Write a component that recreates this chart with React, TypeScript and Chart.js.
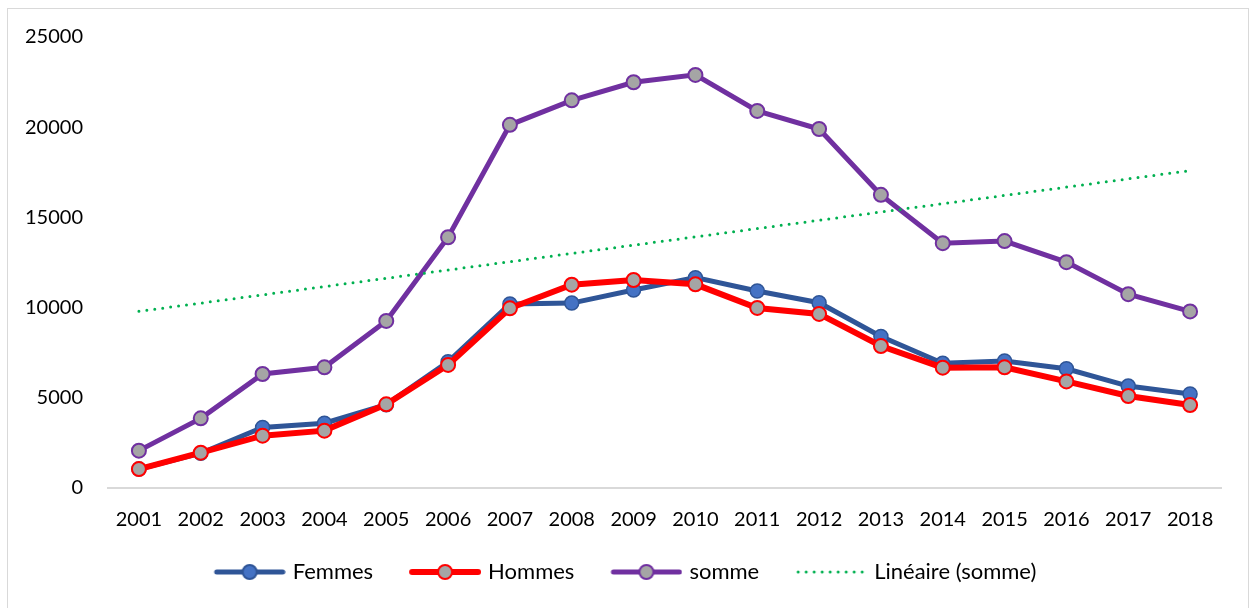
import React, { useEffect, useRef } from "react";
import { Chart, registerables } from "chart.js";

Chart.register(...registerables);

const years = ["2001", "2002", "2003", "2004", "2005", "2006", "2007", "2008", "2009", "2010", "2011", "2012", "2013", "2014", "2015", "2016", "2017", "2018"];
const femmes = [1050, 1930, 3360, 3590, 4620, 7000, 10200, 10250, 10975, 11660, 10920, 10270, 8400, 6910, 7040, 6610, 5650, 5210];
const hommes = [1050, 1960, 2900, 3180, 4640, 6820, 9960, 11270, 11530, 11290, 9980, 9650, 7870, 6670, 6690, 5910, 5100, 4600];
const somme = [2070, 3860, 6320, 6690, 9260, 13900, 20130, 21490, 22490, 22900, 20900, 19900, 16250, 13570, 13690, 12520, 10745, 9790];
const yTicks = [0, 5000, 10000, 15000, 20000, 25000];
const legendLabels = ["Femmes", "Hommes", "somme", "Linéaire (somme)"];

// Excel-style linear trendline (least squares) of "somme"
function linearTrend(values: number[]): number[] {
  const n = values.length;
  const xs = values.map((_, i) => i);
  const mx = xs.reduce((a, b) => a + b, 0) / n;
  const my = values.reduce((a, b) => a + b, 0) / n;
  let num = 0;
  let den = 0;
  xs.forEach((x, i) => {
    num += (x - mx) * (values[i] - my);
    den += (x - mx) * (x - mx);
  });
  const slope = num / den;
  return xs.map((x) => my + slope * (x - mx));
}

const FONT = "Lato, 'Open Sans', sans-serif";
const SAMPLE_OFF = 13;

function makeSample(line: string, lineW: number, fill: string | null, stroke: string | null, dotted: boolean): HTMLCanvasElement {
  const c = document.createElement("canvas");
  c.width = 85;
  c.height = 20;
  const ctx = c.getContext("2d")!;
  const o = SAMPLE_OFF;
  ctx.strokeStyle = line;
  ctx.lineWidth = lineW;
  ctx.lineCap = "round";
  if (dotted) {
    ctx.setLineDash([0, 8]);
    ctx.beginPath();
    ctx.moveTo(o + 3, 10);
    ctx.lineTo(o + 70, 10);
    ctx.stroke();
  } else {
    ctx.beginPath();
    ctx.moveTo(o + 3, 10);
    ctx.lineTo(o + 69, 10);
    ctx.stroke();
  }
  if (fill && stroke) {
    ctx.setLineDash([]);
    ctx.beginPath();
    ctx.arc(o + 36, 10, 7, 0, Math.PI * 2);
    ctx.fillStyle = fill;
    ctx.fill();
    ctx.lineWidth = 2;
    ctx.strokeStyle = stroke;
    ctx.stroke();
  }
  return c;
}

export default function App() {
  const ref = useRef<HTMLCanvasElement | null>(null);

  useEffect(() => {
    if (!ref.current) return;
    const trend = linearTrend(somme);
    const samples = [
      makeSample("#2F5597", 5, "#4472C4", "#2F5597", false),
      makeSample("#FF0000", 6, "#A5A5A5", "#FF0000", false),
      makeSample("#7030A0", 5, "#A5A5A5", "#7030A0", false),
      makeSample("#00B050", 3, null, null, true),
    ];
    const chart = new Chart(ref.current, {
      type: "line",
      data: {
        labels: years,
        datasets: [
          {
            label: legendLabels[0],
            data: femmes,
            borderColor: "#2F5597",
            borderWidth: 5,
            pointRadius: 7,
            pointBackgroundColor: "#4472C4",
            pointBorderColor: "#2F5597",
            pointBorderWidth: 1.5,
            order: 4,
          },
          {
            label: legendLabels[1],
            data: hommes,
            borderColor: "#FF0000",
            borderWidth: 6,
            pointRadius: 7,
            pointBackgroundColor: "#A5A5A5",
            pointBorderColor: "#FF0000",
            pointBorderWidth: 2,
            order: 3,
          },
          {
            label: legendLabels[2],
            data: somme,
            borderColor: "#7030A0",
            borderWidth: 5,
            pointRadius: 7,
            pointBackgroundColor: "#A5A5A5",
            pointBorderColor: "#7030A0",
            pointBorderWidth: 2,
            order: 2,
          },
          {
            label: legendLabels[3],
            data: trend,
            borderColor: "#00B050",
            borderWidth: 3,
            borderDash: [0, 8],
            borderCapStyle: "round",
            pointRadius: 0,
            order: 1,
          },
        ],
      },
      options: {
        animation: false,
        responsive: false,
        maintainAspectRatio: false,
        layout: { padding: { left: 12, right: 27, top: 28, bottom: 15 } },
        plugins: {
          tooltip: { enabled: false },
          legend: {
            position: "bottom",
            labels: {
              usePointStyle: true,
              pointStyleWidth: 77,
              padding: 27,
              color: "#000",
              font: { family: FONT, size: 22 },
              generateLabels: () =>
                legendLabels.map((t, i) => ({
                  text: t,
                  pointStyle: samples[i],
                  datasetIndex: i,
                  fillStyle: "transparent",
                  strokeStyle: "transparent",
                  lineWidth: 0,
                  hidden: false,
                  fontColor: "#000",
                })),
            },
          },
        },
        scales: {
          x: {
            offset: true,
            grid: { display: false, drawTicks: false },
            border: { display: true, color: "#D9D9D9", width: 2 },
            ticks: { color: "#000", font: { family: FONT, size: 20 }, padding: 20, maxRotation: 0 },
            afterFit: (s: any) => {
              s.height = 46;
            },
          },
          y: {
            min: 0,
            max: 25000,
            afterBuildTicks: (s: any) => {
              s.ticks = yTicks.map((v) => ({ value: v }));
            },
            grid: { display: false, drawTicks: false },
            border: { display: false },
            ticks: {
              color: "#000",
              font: { family: FONT, size: 20 },
              padding: 25,
              callback: (v: any) => String(v),
            },
            afterFit: (s: any) => {
              s.width = 88;
              s.paddingTop = 12;
              s.paddingBottom = 12;
            },
          },
        },
      },
    });
    return () => chart.destroy();
  }, []);

  return (
    <div
      style={{
        position: "absolute",
        left: 7,
        top: 8,
        width: 1242,
        height: 600,
        boxSizing: "border-box",
        border: "1px solid #D9D9D9",
        borderBottom: "none",
        background: "#fff",
      }}
    >
      <canvas ref={ref} width={1240} height={599} style={{ display: "block", width: 1240, height: 599 }} />
    </div>
  );
}
